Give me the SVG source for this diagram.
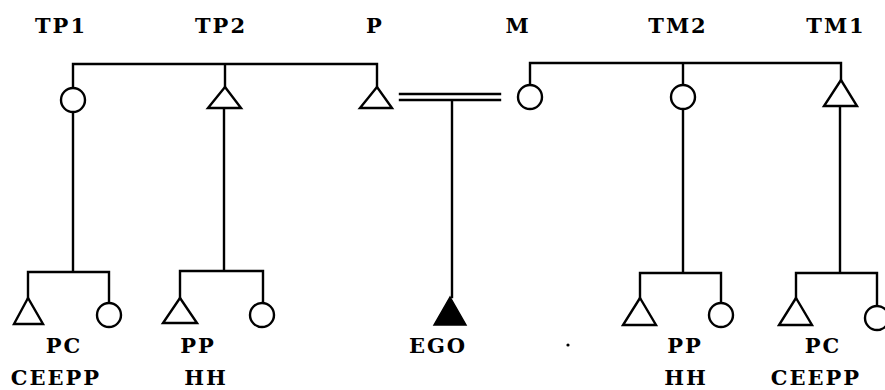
<svg xmlns="http://www.w3.org/2000/svg" width="885" height="390" viewBox="0 0 885 390">
<style>
.l{stroke:#000;stroke-width:2.4;fill:none;stroke-linecap:square}
.s{stroke:#000;stroke-width:2.4;fill:#fff}
.f{stroke:#000;stroke-width:1.5;fill:#000}
text{font-family:"DejaVu Serif","Liberation Serif",serif;font-size:21px;font-weight:bold;fill:#000;text-anchor:middle;letter-spacing:2px}
</style>
<rect width="885" height="390" fill="#fff"/>
<g id="connectors">
<path class="l" d="M73,88 V64 H377 V87 M225,64 V87"/>
<path class="l" d="M73,112 V272 M28,298 V272 H109 V303"/>
<path class="l" d="M224,108 V271 M180,298 V271 H263 V303"/>
<path class="l" d="M400,94 H500 M400,100 H500 M452,100 V297"/>
<path class="l" d="M530,85 V63 H841 V80 M683,63 V85"/>
<path class="l" d="M683,109 V273 M640,298 V273 H721 V303"/>
<path class="l" d="M840,106 V273 M796,298 V273 H877 V306"/>
</g>
<g id="TP1"><circle class="s" cx="73" cy="100" r="12"/><text x="61" y="33">TP1</text></g>
<g id="TP2"><polygon class="s" points="225,87 208,108 241,108"/><text x="221" y="33">TP2</text></g>
<g id="P"><polygon class="s" points="377,87 360,108 392,108"/><text x="375" y="33">P</text></g>
<g id="M"><circle class="s" cx="530" cy="97" r="12"/><text x="518" y="33">M</text></g>
<g id="TM2"><circle class="s" cx="683" cy="97" r="12"/><text x="678" y="33">TM2</text></g>
<g id="TM1"><polygon class="s" points="841,80 824,106 857,106"/><text x="836" y="33">TM1</text></g>
<g id="PC-left"><polygon class="s" points="28,298 14,324 43,324"/><circle class="s" cx="109" cy="315" r="12"/><text x="64" y="353">PC</text><text x="56" y="385">CEEPP</text></g>
<g id="PP-left"><polygon class="s" points="180,298 163,323 197,323"/><circle class="s" cx="262" cy="315" r="12"/><text x="198" y="353">PP</text><text x="206" y="385">HH</text></g>
<g id="EGO"><polygon class="f" points="450,297 434,325 466,325"/><text x="438" y="353">EGO</text></g>
<g id="PP-right"><polygon class="s" points="640,298 623,325 656,325"/><circle class="s" cx="721" cy="315" r="12"/><text x="685" y="353">PP</text><text x="686" y="385">HH</text></g>
<g id="PC-right"><polygon class="s" points="796,298 779,325 812,325"/><circle class="s" cx="877" cy="318" r="12"/><text x="823" y="353">PC</text><text x="816" y="385">CEEPP</text></g>
<circle cx="568" cy="345" r="1.6" fill="#000"/>
</svg>
